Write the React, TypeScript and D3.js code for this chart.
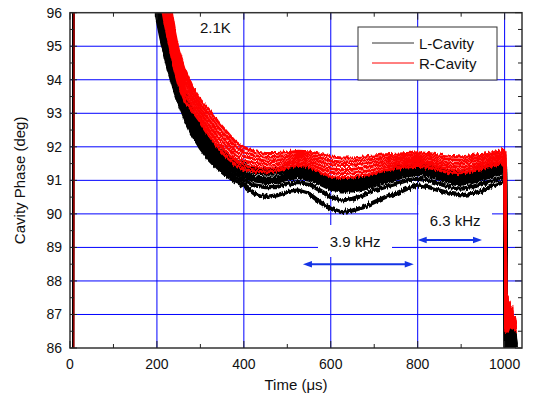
import React from "react";
import * as d3 from "d3";

const TIME = [0, 6, 7, 195,
  200, 210, 220, 230, 240, 250, 265, 280, 300, 320, 340, 360, 380, 400,
  425, 450, 475, 500, 525, 550, 575, 600, 625, 650, 675, 700, 725, 750, 775, 800, 825, 850, 875, 900, 925, 950, 975, 998,
  1001, 1003, 1006, 1008, 1011, 1014, 1017, 1020, 1023, 1025];

const L1 = [84, 84, 100, 100, 97.12, 96.34, 95.66, 95.07, 94.55, 94.10, 93.54, 93.08, 92.60, 92.24, 91.96, 91.75, 91.59, 91.47,
  91.35, 91.3, 91.3, 91.35, 91.4, 91.35, 91.2, 91.05, 91.0, 91.0, 91.05, 91.15, 91.25, 91.35, 91.45, 91.5, 91.45, 91.35, 91.25, 91.2, 91.25, 91.35, 91.45, 91.55,
  91.4, 85.8, 86.9, 86.1, 86.8, 86.0, 86.6, 86.0, 86.5, 86.1];
const L2 = [84, 84, 100, 100, 96.88, 96.12, 95.47, 94.89, 94.39, 93.95, 93.40, 92.95, 92.51, 92.12, 91.84, 91.63, 91.47, 91.35,
  91.25, 91.2, 91.2, 91.25, 91.3, 91.25, 91.1, 90.95, 90.9, 90.9, 90.95, 91.05, 91.15, 91.25, 91.35, 91.4, 91.35, 91.25, 91.15, 91.1, 91.15, 91.25, 91.35, 91.45,
  91.3, 85.7, 87.0, 85.9, 86.7, 86.1, 86.6, 85.9, 86.4, 86.0];
const L3 = [84, 84, 100, 100, 96.63, 95.91, 95.27, 94.71, 94.22, 93.80, 93.26, 92.81, 92.42, 92.00, 91.72, 91.51, 91.35, 91.22,
  91.1, 91.05, 91.05, 91.15, 91.2, 91.15, 91.0, 90.85, 90.8, 90.8, 90.85, 90.95, 91.05, 91.15, 91.25, 91.3, 91.25, 91.15, 91.05, 91.0, 91.05, 91.15, 91.25, 91.35,
  91.2, 85.6, 86.8, 86.0, 86.9, 85.9, 86.5, 86.1, 86.4, 86.1];
const L4 = [84, 84, 100, 100, 96.39, 95.68, 95.08, 94.53, 94.06, 93.65, 93.11, 92.67, 92.24, 91.88, 91.60, 91.39, 91.23, 91.10,
  91.0, 90.95, 90.95, 91.05, 91.1, 91.05, 90.9, 90.75, 90.7, 90.7, 90.75, 90.85, 90.95, 91.05, 91.15, 91.2, 91.15, 91.05, 90.95, 90.9, 90.95, 91.05, 91.15, 91.25,
  91.1, 85.8, 86.7, 85.9, 86.6, 86.0, 86.7, 86.0, 86.3, 86.0];
const L5 = [84, 84, 100, 100, 96.14, 95.47, 94.88, 94.36, 93.90, 93.50, 92.98, 92.53, 92.11, 91.77, 91.48, 91.27, 91.10, 90.98,
  90.85, 90.8, 90.8, 90.9, 90.95, 90.9, 90.7, 90.5, 90.4, 90.45, 90.55, 90.7, 90.8, 90.9, 91.0, 91.05, 91.0, 90.9, 90.8, 90.75, 90.8, 90.9, 91.0, 91.1,
  91.0, 85.7, 87.05, 86.0, 86.8, 86.1, 86.5, 85.9, 86.4, 86.0];
const L6 = [84, 84, 100, 100, 95.90, 95.26, 94.69, 94.18, 93.74, 93.35, 92.84, 92.42, 91.98, 91.63, 91.36, 91.15, 90.98, 90.85,
  90.6, 90.5, 90.55, 90.65, 90.7, 90.6, 90.35, 90.15, 90.05, 90.1, 90.2, 90.35, 90.5, 90.6, 90.75, 90.85, 90.8, 90.7, 90.6, 90.55, 90.6, 90.7, 90.85, 90.95,
  90.9, 85.6, 86.9, 85.9, 86.7, 86.0, 86.6, 85.9, 86.3, 86.0];

const R1 = [84, 84, 100, 100, 98.8, 97.9, 97.0, 96.3, 95.5, 94.85, 94.25, 93.8, 93.4, 93.1, 92.75, 92.45, 92.15, 91.98,
  91.85, 91.8, 91.8, 91.82, 91.87, 91.85, 91.78, 91.7, 91.67, 91.67, 91.7, 91.73, 91.76, 91.78, 91.8, 91.82, 91.8, 91.76, 91.72, 91.7, 91.74, 91.78, 91.83, 91.9,
  91.85, 86.6, 87.5, 86.7, 87.3, 86.7, 87.1, 86.6, 86.9, 86.6];
const R2 = [84, 84, 100, 100, 98.48, 97.58, 96.72, 96.06, 95.27, 94.65, 94.07, 93.66, 93.27, 92.95, 92.6, 92.3, 92.02, 91.85,
  91.74, 91.69, 91.7, 91.73, 91.78, 91.76, 91.67, 91.58, 91.55, 91.56, 91.6, 91.63, 91.67, 91.7, 91.72, 91.74, 91.72, 91.67, 91.62, 91.6, 91.65, 91.7, 91.75, 91.82,
  91.75, 86.7, 87.6, 86.6, 87.2, 86.8, 87.0, 86.6, 86.9, 86.7];
const R3 = [84, 84, 100, 100, 98.16, 97.26, 96.44, 95.82, 95.04, 94.45, 93.89, 93.52, 93.14, 92.8, 92.44, 92.15, 91.88, 91.72,
  91.63, 91.58, 91.6, 91.64, 91.7, 91.67, 91.57, 91.47, 91.44, 91.45, 91.49, 91.53, 91.58, 91.62, 91.64, 91.66, 91.64, 91.58, 91.52, 91.5, 91.56, 91.62, 91.67, 91.74,
  91.65, 86.5, 87.4, 86.7, 87.35, 86.6, 87.0, 86.7, 86.8, 86.6];
const R4 = [84, 84, 100, 100, 97.84, 96.94, 96.16, 95.58, 94.81, 94.25, 93.71, 93.38, 93.01, 92.65, 92.29, 92.0, 91.75, 91.58,
  91.51, 91.47, 91.49, 91.55, 91.62, 91.58, 91.46, 91.35, 91.31, 91.33, 91.37, 91.43, 91.49, 91.53, 91.56, 91.58, 91.55, 91.49, 91.42, 91.4, 91.46, 91.53, 91.6, 91.66,
  91.55, 86.6, 87.3, 86.6, 87.1, 86.7, 87.2, 86.6, 86.8, 86.7];
const R5 = [84, 84, 100, 100, 97.52, 96.62, 95.88, 95.34, 94.58, 94.05, 93.53, 93.24, 92.88, 92.5, 92.13, 91.85, 91.61, 91.45,
  91.4, 91.36, 91.38, 91.47, 91.53, 91.49, 91.36, 91.24, 91.2, 91.22, 91.26, 91.32, 91.39, 91.45, 91.48, 91.5, 91.47, 91.4, 91.32, 91.3, 91.37, 91.45, 91.52, 91.58,
  91.45, 86.5, 87.55, 86.6, 87.2, 86.8, 86.9, 86.6, 86.7, 86.6];
const R6 = [84, 84, 100, 100, 97.2, 96.3, 95.6, 95.0, 94.35, 93.85, 93.35, 93.1, 92.75, 92.35, 91.98, 91.7, 91.48, 91.32,
  91.28, 91.25, 91.28, 91.38, 91.45, 91.4, 91.25, 91.12, 91.08, 91.1, 91.15, 91.22, 91.3, 91.36, 91.4, 91.42, 91.38, 91.3, 91.22, 91.2, 91.28, 91.36, 91.44, 91.5,
  91.4, 86.6, 87.2, 86.5, 87.0, 86.6, 87.0, 86.6, 86.7, 86.5];

const L_TRACES = [L1, L2, L3, L4, L5, L6];
const R_TRACES = [R1, R2, R3, R4, R5, R6];

const X_TICKS = [0, 200, 400, 600, 800, 1000];
const X_MINOR = [100, 300, 500, 700, 900];
const Y_TICKS = [86, 87, 88, 89, 90, 91, 92, 93, 94, 95, 96];
const Y_MINOR = [86.5, 87.5, 88.5, 89.5, 90.5, 91.5, 92.5, 93.5, 94.5, 95.5];
const LEGEND = ["L-Cavity", "R-Cavity"];

const W = 533, H = 396;
const M = { left: 70, right: 522, top: 12.7, bottom: 348 };
const FONT = "'Liberation Sans', Arial, sans-serif";
const BLUE = "#0000ff";
const ARROW = "#1434e6";
const SPLIT = 3; // index where the start-up step ends

export default function App() {
  const x = d3.scaleLinear().domain([0, 1040]).range([M.left, M.right]);
  const y = d3.scaleLinear().domain([86, 96]).range([M.bottom, M.top]);
  const pw = M.right - M.left, ph = M.bottom - M.top;

  const pathFor = (tr: number[], from: number, to: number) => {
    const pts: [number, number][] = [];
    for (let i = from; i < to; i++) pts.push([TIME[i], tr[i]]);
    return d3.line<[number, number]>().x((d) => x(d[0])).y((d) => y(d[1]))(pts) || "";
  };

  const arrow = (t0: number, t1: number, v: number) => {
    const x0 = x(t0), x1 = x(t1), yy = y(v);
    const hl = 9, hw = 3.2;
    return (
      <g>
        <line x1={x0 + 4} x2={x1 - 4} y1={yy} y2={yy} stroke={ARROW} strokeWidth={2} />
        <path d={`M${x0},${yy} L${x0 + hl},${yy - hw} L${x0 + hl},${yy + hw} Z`} fill={ARROW} />
        <path d={`M${x1},${yy} L${x1 - hl},${yy - hw} L${x1 - hl},${yy + hw} Z`} fill={ARROW} />
      </g>
    );
  };

  return (
    <svg width={W} height={H} style={{ position: "absolute", left: 0, top: 0, background: "#fff" }} fontFamily={FONT}>
      <defs>
        <clipPath id="plotclip">
          <rect x={M.left} y={M.top} width={pw} height={ph} />
        </clipPath>
        <filter id="noise" filterUnits="userSpaceOnUse" x={0} y={0} width={W} height={H}>
          <feTurbulence type="fractalNoise" baseFrequency="0.6 0.1" numOctaves={2} seed={7} result="t" />
          <feColorMatrix in="t" type="matrix"
            values="0 0 0 0 0.5  0 1 0 0 0  0 0 0 0 0  0 0 0 0 1" result="m" />
          <feDisplacementMap in="SourceGraphic" in2="m" scale={6} xChannelSelector="R" yChannelSelector="G" />
        </filter>
      </defs>
      <rect x={0} y={0} width={W} height={H} fill="#fff" />
      {X_TICKS.filter((t) => t > 0).map((t) => (
        <line key={"gx" + t} x1={x(t)} x2={x(t)} y1={M.top} y2={M.bottom} stroke={BLUE} strokeWidth={1} />
      ))}
      {Y_TICKS.filter((v) => v > 86 && v < 96).map((v) => (
        <line key={"gy" + v} x1={M.left} x2={M.right} y1={y(v)} y2={y(v)} stroke={BLUE} strokeWidth={1} />
      ))}
      <g clipPath="url(#plotclip)">
        <g fill="none">
          {L_TRACES.map((tr, i) => (
            <path key={"ls" + i} d={pathFor(tr, 0, SPLIT + 1)} stroke="#000" strokeWidth={1} />
          ))}
          {R_TRACES.map((tr, i) => (
            <path key={"rs" + i} d={pathFor(tr, 0, SPLIT + 1)} stroke="#8a0000" strokeWidth={1} transform="translate(1,0)" />
          ))}
        </g>
        <g filter="url(#noise)" fill="none" strokeLinejoin="round">
          {L_TRACES.map((tr, i) => (
            <path key={"l" + i} d={pathFor(tr, SPLIT, TIME.length)} stroke="#000" strokeWidth={4.2} />
          ))}
          {R_TRACES.map((tr, i) => (
            <path key={"r" + i} d={pathFor(tr, SPLIT, TIME.length)} stroke="#ff0000" strokeWidth={3.0} />
          ))}
        </g>
      </g>
      <rect x={318} y={225} width={74} height={32} fill="#fff" />
      <rect x={418.5} y={205} width={73.5} height={27} fill="#fff" />
      <text x={x(656)} y={y(89.0)} fontSize={15} textAnchor="middle" fill="#111">3.9 kHz</text>
      <text x={x(886)} y={y(89.64)} fontSize={15} textAnchor="middle" fill="#111">6.3 kHz</text>
      <text x={200} y={33} fontSize={15} fill="#111">2.1K</text>
      {arrow(536, 791, 88.5)}
      {arrow(800, 948, 89.22)}
      <rect x={M.left} y={M.top} width={pw} height={ph} fill="none" stroke="#333" strokeWidth={1.5} />
      {X_TICKS.map((t) => (
        <g key={"xt" + t}>
          <line x1={x(t)} x2={x(t)} y1={M.bottom} y2={M.bottom - 7} stroke="#222" strokeWidth={1} />
          <line x1={x(t)} x2={x(t)} y1={M.top} y2={M.top + 7} stroke="#222" strokeWidth={1} />
          <text x={x(t)} y={369} fontSize={14} textAnchor="middle" fill="#111">{t}</text>
        </g>
      ))}
      {X_MINOR.map((t) => (
        <g key={"xm" + t}>
          <line x1={x(t)} x2={x(t)} y1={M.bottom} y2={M.bottom - 4} stroke="#222" strokeWidth={1} />
          <line x1={x(t)} x2={x(t)} y1={M.top} y2={M.top + 4} stroke="#222" strokeWidth={1} />
        </g>
      ))}
      {Y_TICKS.map((v) => (
        <g key={"yt" + v}>
          <line x1={M.left} x2={M.left + 7} y1={y(v)} y2={y(v)} stroke="#222" strokeWidth={1} />
          <line x1={M.right} x2={M.right - 7} y1={y(v)} y2={y(v)} stroke="#222" strokeWidth={1} />
          <text x={62} y={y(v) + 5} fontSize={14} textAnchor="end" fill="#111">{v}</text>
        </g>
      ))}
      {Y_MINOR.map((v) => (
        <g key={"ym" + v}>
          <line x1={M.left} x2={M.left + 4} y1={y(v)} y2={y(v)} stroke="#222" strokeWidth={1} />
          <line x1={M.right} x2={M.right - 4} y1={y(v)} y2={y(v)} stroke="#222" strokeWidth={1} />
        </g>
      ))}
      <text x={(M.left + M.right) / 2} y={390} fontSize={15} textAnchor="middle" fill="#111">Time (μs)</text>
      <text transform={`translate(25,${(M.top + M.bottom) / 2}) rotate(-90)`} fontSize={15} textAnchor="middle" fill="#111">Cavity Phase (deg)</text>
      <rect x={358} y={27} width={139} height={53} fill="#fff" stroke="#333" strokeWidth={1} />
      <line x1={372} x2={414} y1={43} y2={43} stroke="#333" strokeWidth={1} />
      <line x1={372} x2={414} y1={63} y2={63} stroke="#ff0000" strokeWidth={1} />
      <text x={419} y={48.5} fontSize={15} fill="#111">{LEGEND[0]}</text>
      <text x={419} y={68.5} fontSize={15} fill="#111">{LEGEND[1]}</text>
    </svg>
  );
}
